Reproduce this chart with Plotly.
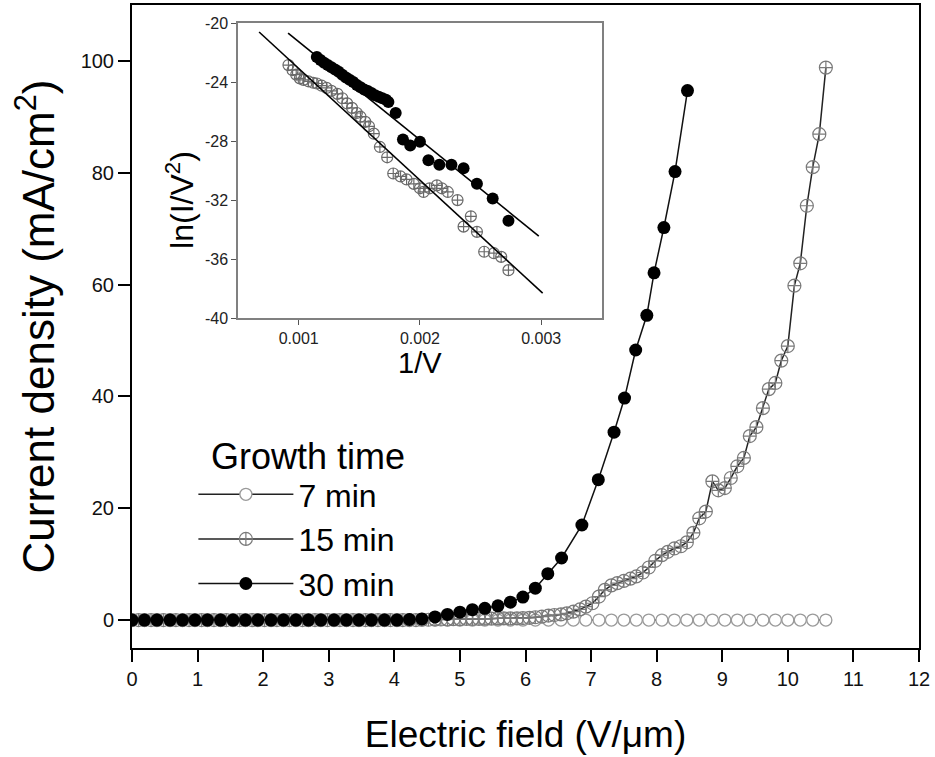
import plotly.graph_objects as go

# ---------------- J-E data (main panel) ----------------
field_7 = [0.00, 0.19, 0.38, 0.58, 0.77, 0.96, 1.15, 1.35, 1.54, 1.73, 1.92, 2.12, 2.31, 2.50,
           2.69, 2.88, 3.08, 3.27, 3.46, 3.65, 3.85, 4.04, 4.23, 4.42, 4.62, 4.81, 5.00, 5.19,
           5.38, 5.58, 5.77, 5.96, 6.15, 6.35, 6.54, 6.73, 6.92, 7.12, 7.31, 7.50, 7.69, 7.88,
           8.08, 8.27, 8.46, 8.65, 8.85, 9.04, 9.23, 9.42, 9.62, 9.81, 10.00, 10.19, 10.38, 10.58]
current_7 = [0, 0, 0, 0, 0, 0, 0, 0, 0, 0, 0, 0, 0, 0,
             0, 0, 0, 0, 0, 0, 0, 0, 0, 0, 0, 0, 0, 0,
             0, 0, 0, 0, 0, 0, 0, 0, 0, 0, 0, 0, 0, 0,
             0, 0, 0, 0, 0, 0, 0, 0, 0, 0, 0, 0, 0, 0]

field_15 = [0.00, 0.10, 0.19, 0.29, 0.38, 0.48, 0.58, 0.67, 0.77, 0.87, 0.96, 1.06, 1.15, 1.25,
            1.35, 1.44, 1.54, 1.64, 1.73, 1.83, 1.92, 2.02, 2.12, 2.21, 2.31, 2.40, 2.50, 2.60,
            2.69, 2.79, 2.88, 2.98, 3.08, 3.17, 3.27, 3.37, 3.46, 3.56, 3.65, 3.75, 3.85, 3.94,
            4.04, 4.13, 4.23, 4.33, 4.42, 4.52, 4.62, 4.71, 4.81, 4.90, 5.00, 5.10, 5.19, 5.29,
            5.38, 5.48, 5.58, 5.67, 5.77, 5.87, 5.96, 6.06, 6.15, 6.25, 6.35, 6.44, 6.54, 6.63,
            6.73, 6.83, 6.92, 7.02, 7.12, 7.21, 7.31, 7.40, 7.50, 7.60, 7.69, 7.79, 7.88, 7.98,
            8.08, 8.17, 8.27, 8.37, 8.46, 8.56, 8.65, 8.75, 8.85, 8.94, 9.04, 9.13, 9.23, 9.33,
            9.42, 9.52, 9.62, 9.71, 9.81, 9.90, 10.00, 10.10, 10.19, 10.29, 10.38, 10.48, 10.58]
current_15 = [0, 0, 0, 0, 0, 0, 0, 0, 0, 0, 0, 0, 0, 0,
              0, 0, 0, 0, 0, 0, 0, 0, 0, 0, 0, 0, 0, 0,
              0, 0, 0, 0, 0, 0, 0, 0, 0, 0, 0, 0, 0, 0,
              0, 0, 0, 0, 0.05, 0.05, 0.1, 0.1, 0.1, 0.15, 0.15, 0.2, 0.2, 0.2,
              0.25, 0.25, 0.3, 0.3, 0.3, 0.3, 0.35, 0.4, 0.5, 0.6, 0.8, 0.9, 1.0, 1.2,
              1.5, 1.9, 2.4, 3.0, 4.2, 5.4, 6.2, 6.6, 7.0, 7.4, 7.8, 8.5, 9.4, 10.6,
              11.6, 12.2, 12.8, 13.2, 13.9, 15.6, 18.2, 19.4, 24.8, 23.2, 23.6, 25.4, 27.5, 29.0,
              32.9, 34.5, 37.9, 41.3, 42.4, 46.4, 49.0, 59.8, 63.8, 74.1, 81.0, 86.9, 98.8]

field_30 = [0.00, 0.19, 0.38, 0.58, 0.77, 0.96, 1.15, 1.35, 1.54, 1.73, 1.92, 2.12, 2.31, 2.50,
            2.69, 2.88, 3.08, 3.27, 3.46, 3.65, 3.85, 4.04, 4.23, 4.42, 4.62, 4.81, 5.00, 5.19,
            5.38, 5.58, 5.77, 5.96, 6.15, 6.34, 6.55, 6.86, 7.11, 7.35, 7.51, 7.68, 7.85, 7.96,
            8.11, 8.28, 8.47]
current_30 = [0, 0, 0, 0, 0, 0, 0, 0, 0, 0, 0, 0, 0, 0,
              0, 0, 0, 0, 0, 0, 0, 0, 0.1, 0.2, 0.55, 1.0, 1.4, 1.85,
              2.1, 2.55, 3.2, 4.1, 5.7, 8.3, 11.1, 17.0, 25.1, 33.6, 39.7, 48.3, 54.5, 62.1,
              70.2, 80.2, 94.7]

# ---------------- Fowler-Nordheim data (inset) ----------------
inv_v_15 = [0.000916, 0.00095, 0.00098, 0.00101, 0.00104, 0.00108, 0.00112, 0.00115, 0.00119,
            0.00123, 0.00127, 0.00132, 0.00136, 0.00140, 0.00144, 0.00148, 0.00151, 0.00155,
            0.00158, 0.00162, 0.00167, 0.00173, 0.00178, 0.00184, 0.00189, 0.00195, 0.00200,
            0.00203, 0.00208, 0.00214, 0.00218, 0.00223, 0.00231, 0.00236, 0.00242, 0.00247,
            0.00253, 0.00261, 0.00267, 0.00273]
ln_iv2_15 = [-22.85, -23.2, -23.5, -23.75, -23.85, -23.95, -24.05, -24.1, -24.25,
             -24.4, -24.6, -24.8, -25.1, -25.45, -25.75, -26.1, -26.35, -26.7,
             -27.0, -27.5, -28.4, -29.1, -30.2, -30.4, -30.6, -30.9, -31.2,
             -31.45, -31.2, -31.0, -31.2, -31.45, -32.0, -33.8, -33.1, -34.15,
             -35.5, -35.6, -35.85, -36.75]

inv_v_30 = [0.00115, 0.00118, 0.00121, 0.00124, 0.00127, 0.00130, 0.00133, 0.00136, 0.00139,
            0.00142, 0.00145, 0.00148, 0.00151, 0.00154, 0.00157, 0.00160, 0.00163, 0.00166,
            0.00169, 0.00172, 0.00174, 0.00180, 0.00186, 0.00192, 0.00200, 0.00207, 0.00216,
            0.00226, 0.00236, 0.00247, 0.00260, 0.00273]
ln_iv2_30 = [-22.3, -22.5, -22.7, -22.85, -23.0, -23.15, -23.3, -23.5, -23.7,
             -23.85, -24.0, -24.2, -24.35, -24.5, -24.6, -24.75, -24.9, -25.0,
             -25.1, -25.2, -25.35, -26.1, -27.9, -28.3, -28.05, -29.3, -29.6,
             -29.6, -29.85, -30.9, -31.9, -33.4]

# linear fits (end points of each fitted line)
fit_x_15 = [0.000674, 0.003012]
fit_y_15 = [-20.61, -38.31]
fit_x_30 = [0.000913, 0.00298]
fit_y_30 = [-20.68, -34.44]

inset_yticks = [-40, -36, -32, -28, -24, -20]
inset_yticktext = ["-40", "-36", "-32", "-28", "-24", "-20"]
inset_xticks = [0.001, 0.002, 0.003]
inset_xticktext = ["0.001", "0.002", "0.003"]

FONT = "Liberation Sans, Arial, sans-serif"
GRAY_OPEN = "#9a9a9a"
GRAY_CROSS = "#7a7a7a"

fig = go.Figure()

fig.add_trace(go.Scatter(
    x=field_7, y=current_7, mode="lines+markers", name="7 min",
    line=dict(color="#222222", width=1.5),
    marker=dict(symbol="circle", size=12, color="white",
                line=dict(color=GRAY_OPEN, width=1.3)),
))
fig.add_trace(go.Scatter(
    x=field_15, y=current_15, mode="lines+markers", name="15 min",
    line=dict(color="#222222", width=1.5),
    marker=dict(symbol="circle-cross-open", size=13,
                line=dict(color=GRAY_CROSS, width=1.2), color=GRAY_CROSS),
))
fig.add_trace(go.Scatter(
    x=field_30, y=current_30, mode="lines+markers", name="30 min",
    line=dict(color="#111111", width=1.5),
    marker=dict(symbol="circle", size=13, color="black"),
))

# inset traces
fig.add_trace(go.Scatter(
    x=inv_v_15, y=ln_iv2_15, mode="markers", showlegend=False,
    xaxis="x2", yaxis="y2",
    marker=dict(symbol="circle-cross-open", size=11,
                line=dict(color="#6a6a6a", width=1.2), color="#6a6a6a"),
))
fig.add_trace(go.Scatter(
    x=inv_v_30, y=ln_iv2_30, mode="markers", showlegend=False,
    xaxis="x2", yaxis="y2",
    marker=dict(symbol="circle", size=12, color="black"),
))
fig.add_trace(go.Scatter(
    x=fit_x_15, y=fit_y_15, mode="lines", showlegend=False,
    xaxis="x2", yaxis="y2", line=dict(color="black", width=1.6),
))
fig.add_trace(go.Scatter(
    x=fit_x_30, y=fit_y_30, mode="lines", showlegend=False,
    xaxis="x2", yaxis="y2", line=dict(color="black", width=1.6),
))

fig.update_layout(
    width=935, height=757,
    margin=dict(l=132, r=16, t=5, b=109, autoexpand=False),
    paper_bgcolor="white", plot_bgcolor="white",
    font=dict(family=FONT, color="black"),
    xaxis=dict(
        range=[0, 12], tickvals=list(range(0, 13)), automargin=False,
        showgrid=False, zeroline=False,
        showline=True, linecolor="black", linewidth=2, mirror=True,
        ticks="outside", ticklen=12, tickwidth=2, tickcolor="black",
        tickfont=dict(size=20, color="#111111"),
        title=dict(text="Electric field (V/\u03bcm)", font=dict(size=37), standoff=32),
    ),
    yaxis=dict(
        range=[-5, 110], tickvals=[0, 20, 40, 60, 80, 100], automargin=False,
        showgrid=False, zeroline=False,
        showline=True, linecolor="black", linewidth=2, mirror=True,
        ticks="outside", ticklen=12, tickwidth=2, tickcolor="black",
        tickfont=dict(size=20, color="#111111"),
        title=dict(text="Current density (mA/cm<sup>2</sup>)", font=dict(size=44), standoff=12),
    ),
    xaxis2=dict(
        domain=[0.1347, 0.597], anchor="y2", automargin=False,
        range=[0.0005, 0.0035], tickvals=inset_xticks, ticktext=inset_xticktext,
        showgrid=False, zeroline=False,
        showline=True, linecolor="#808080", linewidth=1.5, mirror=True,
        ticks="outside", ticklen=5, tickwidth=1.2, tickcolor="#555555",
        tickfont=dict(size=16, color="#222222"),
    ),
    yaxis2=dict(
        domain=[0.513, 0.972], anchor="x2", automargin=False,
        range=[-40, -20], tickvals=inset_yticks, ticktext=inset_yticktext,
        showgrid=False, zeroline=False,
        showline=True, linecolor="#808080", linewidth=1.5, mirror=True,
        ticks="outside", ticklen=5, tickwidth=1.2, tickcolor="#555555",
        tickfont=dict(size=16, color="#222222"),
    ),
    legend=dict(
        font=dict(size=32, color="black"),
        x=0.078, y=0.2815, xanchor="left", yanchor="top",
        bgcolor="rgba(0,0,0,0)", itemwidth=95, tracegroupgap=0,
    ),
    annotations=[
        # legend heading
        dict(text="Growth time", xref="paper", yref="paper", x=0.2236, y=0.2986,
             xanchor="center", yanchor="middle", showarrow=False, font=dict(size=36)),
        # inset axis titles
        dict(text="1/V", xref="x2 domain", yref="y2 domain", x=0.5, y=-0.09,
             xanchor="center", yanchor="top", showarrow=False, font=dict(size=29)),
        dict(text="ln(I/V<sup>2</sup>)", xref="x2 domain", yref="y2 domain", x=-0.16, y=0.40,
             xanchor="center", yanchor="middle", textangle=-90, showarrow=False,
             font=dict(size=32)),
    ],
)

fig.write_html("out.html")
